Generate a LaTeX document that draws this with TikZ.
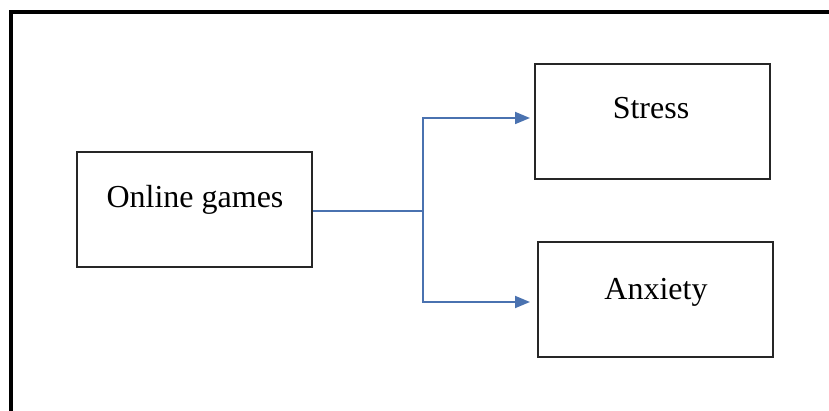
\documentclass[tikz,border=0pt]{standalone}
\usepackage{fontspec}
\setmainfont{Liberation Serif}
\usetikzlibrary{arrows.meta}
\definecolor{connblue}{RGB}{74,114,176}
\begin{document}
\begin{tikzpicture}[x=1pt,y=-1pt,
  box/.style={draw=black!85,line width=2pt,minimum width=#1,inner sep=0pt},
  lbl/.style={font=\fontsize{32}{36}\selectfont,anchor=base,inner sep=0pt},
  conn/.style={draw=connblue,line width=1.8pt},
  tip/.style={-{Triangle[length=15pt,width=12pt]}}]
\useasboundingbox (0,0) rectangle (829,411);
% outer frame (top and left edges)
\draw[line width=4pt,black] (11,411) -- (11,12.5) -- (829,12.5);
% boxes
\node[box=235pt,minimum height=115pt] (og) at (194.5,209.5) {};
\node[box=235pt,minimum height=115pt] (st) at (652.5,121.5) {};
\node[box=235pt,minimum height=115pt] (ax) at (655.5,299.5) {};
% labels
\node[lbl] (ogt) at (195,208) {Online games};
\node[lbl] (stt) at (651,119) {Stress};
\node[lbl] (axt) at (656,300) {Anxiety};
% connectors
\coordinate (j) at (423,211);
\coordinate (a1) at (530,118);
\coordinate (a2) at (530,302);
\draw[conn] (og.east |- j) -- (j);
\draw[conn,tip] (j) |- (a1);
\draw[conn,tip] (j) |- (a2);
\end{tikzpicture}
\end{document}
